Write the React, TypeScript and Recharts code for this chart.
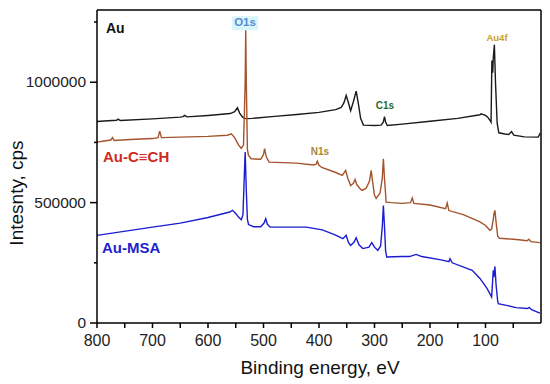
import { LineChart, Line, XAxis, YAxis, ReferenceLine } from 'recharts'

// Au (bare gold) survey spectrum
const auEnergy = [800, 780, 765, 762, 758, 700, 650, 645, 642, 638, 600, 560, 552, 547, 543, 538, 534, 530, 520, 480, 440, 400, 370, 360, 355, 351, 347, 343, 338, 333, 329, 325, 320, 300, 288, 284, 282, 280, 277, 250, 200, 150, 110, 108, 100, 96, 92, 90, 88.5, 87, 86, 84, 82, 79, 76, 65, 58, 53, 49, 30, 5, 1]
const auCounts = [837000, 840000, 842000, 847000, 841000, 848000, 855000, 857000, 862000, 856000, 862000, 870000, 878000, 894000, 872000, 856000, 850000, 849000, 850000, 858000, 866000, 875000, 886000, 895000, 915000, 945000, 915000, 882000, 920000, 963000, 910000, 850000, 822000, 820000, 822000, 835000, 857000, 835000, 820000, 826000, 838000, 850000, 865000, 869000, 862000, 855000, 842000, 834000, 1090000, 1040000, 1100000, 1156000, 1000000, 830000, 790000, 785000, 783000, 795000, 780000, 773000, 772000, 790000]

// Au-C≡CH
const alkEnergy = [800, 790, 775, 772, 769, 740, 700, 690, 687, 684, 650, 600, 565, 558, 552, 545, 540, 536, 533, 532, 531, 529, 527, 522, 505, 500, 498, 495, 490, 441, 410, 405, 403, 400, 395, 370, 358, 352, 348, 343, 338, 335, 332, 325, 322, 315, 309, 306, 303, 300, 297, 290, 286, 284, 282, 279, 270, 250, 235, 232, 229, 200, 172, 169, 166, 140, 110, 100, 92, 89, 86, 85, 84, 83, 81, 78, 75, 50, 40, 25, 22, 18, 2]
const alkCounts = [751000, 755000, 760000, 770000, 758000, 762000, 766000, 770000, 797000, 770000, 772000, 775000, 780000, 786000, 770000, 740000, 725000, 740000, 1000000, 1221000, 1000000, 720000, 696000, 682000, 680000, 700000, 724000, 690000, 668000, 664000, 656000, 660000, 672000, 655000, 646000, 625000, 613000, 634000, 600000, 571000, 580000, 596000, 575000, 555000, 551000, 560000, 590000, 634000, 580000, 530000, 517000, 540000, 600000, 682000, 600000, 502000, 500000, 497000, 500000, 519000, 497000, 490000, 475000, 498000, 467000, 450000, 420000, 405000, 385000, 390000, 430000, 450000, 460000, 468000, 420000, 360000, 352000, 348000, 346000, 342000, 348000, 338000, 334000]

// Au-MSA
const msaEnergy = [800, 700, 650, 600, 561, 556, 550, 545, 540, 537, 534, 533, 531, 529, 527, 518, 505, 499, 496, 493, 488, 423, 394, 370, 357, 351, 347, 343, 337, 333, 328, 321, 310, 305, 300, 294, 289, 286, 284, 282, 280, 278, 250, 237, 225, 215, 180, 166, 164, 160, 124, 110, 97, 89, 87, 86, 85, 83, 81, 78, 77, 60, 45, 25, 21, 17, 2]
const msaCounts = [364000, 398000, 415000, 438000, 461000, 468000, 455000, 440000, 429000, 450000, 650000, 710000, 550000, 430000, 409000, 400000, 400000, 415000, 433000, 410000, 398000, 398000, 387000, 365000, 350000, 364000, 335000, 322000, 335000, 354000, 325000, 309000, 315000, 334000, 315000, 302000, 320000, 400000, 488000, 400000, 300000, 274000, 276000, 276000, 285000, 276000, 262000, 255000, 267000, 250000, 219000, 185000, 143000, 108000, 180000, 219000, 190000, 235000, 160000, 90000, 80000, 72000, 64000, 60000, 64000, 55000, 41000]

const xTicks = [800, 750, 700, 650, 600, 550, 500, 450, 400, 350, 300, 250, 200, 150, 100, 50]
const yTicks = [0, 250000, 500000, 750000, 1000000, 1250000]

const toPoints = (e: number[], v: number[]) => e.map((x, i) => ({ e: x, v: v[i] }))

const auData = toPoints(auEnergy, auCounts)
const alkData = toPoints(alkEnergy, alkCounts)
const msaData = toPoints(msaEnergy, msaCounts)

const font = '"Liberation Sans", Arial, sans-serif'

const YTick = (props: any) => {
  const { x, y, payload } = props
  const major = payload.value % 500000 === 0
  return (
    <g>
      <line x1={x} x2={x - (major ? 7 : 3)} y1={y} y2={y} stroke="#000" strokeWidth={1.5} />
      {major && (
        <text x={x - 11} y={y} dy={5} textAnchor="end" fontSize={15.5} fill="#222" fontFamily={font}>
          {payload.value}
        </text>
      )}
    </g>
  )
}

const XTick = (props: any) => {
  const { x, y, payload } = props
  const major = payload.value % 100 === 0
  return (
    <g>
      <line x1={x} x2={x} y1={y} y2={y + 5} stroke="#000" strokeWidth={1.5} />
      {major && (
        <text x={x} y={y + 23} textAnchor="middle" fontSize={16} fill="#222" fontFamily={font}>
          {payload.value}
        </text>
      )}
    </g>
  )
}

const Note = ({ x, y, color, size, children, bg }: any) => (
  <div
    style={{
      position: 'absolute',
      left: x,
      top: y,
      transform: 'translate(-50%, -50%)',
      color,
      fontSize: size,
      fontWeight: 'bold',
      fontFamily: font,
      whiteSpace: 'nowrap',
      lineHeight: 1,
      background: bg || 'transparent',
      padding: bg ? '1px 2px' : 0,
    }}
  >
    {children}
  </div>
)

export default function App() {
  return (
    <div style={{ position: 'absolute', left: 0, top: 0, width: 550, height: 384, background: '#fff' }}>
      <LineChart width={550} height={384} margin={{ top: 10, right: 9, left: 0, bottom: 0 }}>
        <XAxis
          dataKey="e"
          type="number"
          domain={[0, 800]}
          reversed
          allowDataOverflow
          ticks={xTicks}
          interval={0}
          height={61}
          tickSize={0}
          tickMargin={0}
          tickLine={false}
          tick={<XTick />}
          axisLine={{ stroke: '#000', strokeWidth: 1.5 }}
        />
        <YAxis
          type="number"
          domain={[0, 1300000]}
          allowDataOverflow
          ticks={yTicks}
          interval={0}
          width={97}
          tickSize={0}
          tickMargin={0}
          tickLine={false}
          tick={<YTick />}
          axisLine={{ stroke: '#000', strokeWidth: 1.5 }}
        />
        <ReferenceLine y={1300000} stroke="#000" strokeWidth={1.5} />
        <ReferenceLine x={0} stroke="#000" strokeWidth={1.5} />
        <Line data={auData} dataKey="v" stroke="#1a1a1a" strokeWidth={1.4} dot={false} isAnimationActive={false} />
        <Line data={alkData} dataKey="v" stroke="#a4532c" strokeWidth={1.4} dot={false} isAnimationActive={false} />
        <Line data={msaData} dataKey="v" stroke="#1c1cd0" strokeWidth={1.4} dot={false} isAnimationActive={false} />
      </LineChart>

      <div
        style={{
          position: 'absolute',
          left: 17,
          top: 193,
          transform: 'translate(-50%, -50%) rotate(-90deg)',
          fontSize: 19,
          fontFamily: font,
          color: '#111',
          whiteSpace: 'nowrap',
        }}
      >
        Intesnty, cps
      </div>
      <div
        style={{
          position: 'absolute',
          left: 320,
          top: 368,
          transform: 'translate(-50%, -50%)',
          fontSize: 19,
          fontFamily: font,
          color: '#111',
          whiteSpace: 'nowrap',
        }}
      >
        Binding energy, eV
      </div>

      <div style={{ position: 'absolute', left: 106, top: 21, fontSize: 14, fontWeight: 'bold', fontFamily: font, color: '#111', lineHeight: 1 }}>Au</div>
      <div style={{ position: 'absolute', left: 103, top: 149, fontSize: 15, fontWeight: 'bold', fontFamily: font, color: '#d02a1e', lineHeight: 1 }}>Au-C≡CH</div>
      <div style={{ position: 'absolute', left: 102, top: 240, fontSize: 15, fontWeight: 'bold', fontFamily: font, color: '#1f1fcc', lineHeight: 1 }}>Au-MSA</div>

      <Note x={245} y={23} color="#5b8ad6" size={11.5} bg="#d6f6fa">O1s</Note>
      <Note x={385} y={106} color="#2e6b2a" size={10}>C1s</Note>
      <Note x={497} y={38} color="#c9a227" size={9.5}>Au4f</Note>
      <Note x={320} y={152} color="#a8893c" size={10}>N1s</Note>
    </div>
  )
}
